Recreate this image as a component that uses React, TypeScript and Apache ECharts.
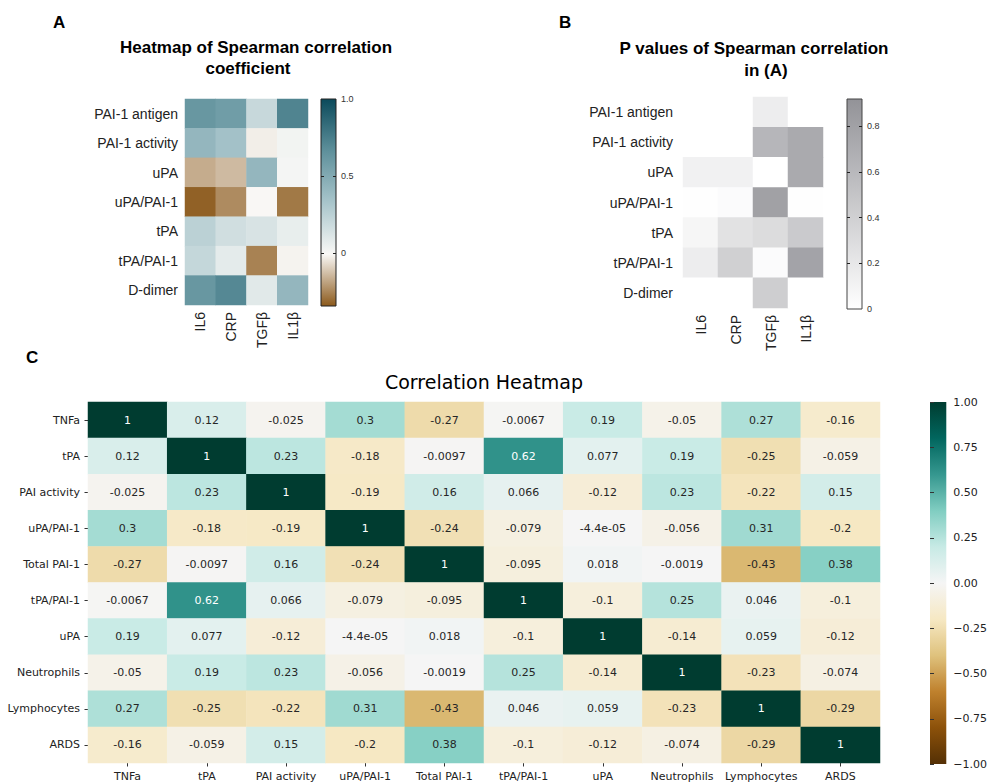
import React, { useEffect, useRef } from 'react';
import * as echarts from 'echarts';

// ---------- Panel A / B ----------
const rowsAB = ['PAI-1 antigen', 'PAI-1 activity', 'uPA', 'uPA/PAI-1', 'tPA', 'tPA/PAI-1', 'D-dimer'];
const colsAB = ['IL6', 'CRP', 'TGFβ', 'IL1β'];
const rhoA = [
  [0.62, 0.58, 0.2, 0.72],
  [0.42, 0.35, -0.03, 0.02],
  [-0.17, -0.14, 0.42, 0.01],
  [-0.33, -0.24, -0.01, -0.28],
  [0.25, 0.16, 0.13, 0.06],
  [0.21, 0.08, -0.26, -0.02],
  [0.62, 0.7, 0.09, 0.42],
];
const pB = [
  [0, 0, 0.15, 0],
  [0, 0, 0.62, 0.72],
  [0.12, 0.12, 0, 0.72],
  [0.01, 0.03, 0.8, 0.01],
  [0.08, 0.25, 0.3, 0.45],
  [0.15, 0.4, 0.03, 0.78],
  [0, 0, 0.42, 0],
];
const rangeA = [-0.345, 1.0];
const rangeB = [0, 0.92];
const colorsA = ['#8c5a1c', '#f9f8f6', '#a8c5cb', '#5e909b', '#0b4a5b'];
const colorsB = ['#ffffff', '#939398'];
const tickLabelsA = [0, 0.5, 1];
const tickMarksA = [0, 0.5];
const tickLabelsB = [0, 0.2, 0.4, 0.6, 0.8];
const tickMarksB = [0.2, 0.4, 0.6, 0.8];

// ---------- Panel C ----------
const varsC = ['TNFa', 'tPA', 'PAI activity', 'uPA/PAI-1', 'Total PAI-1', 'tPA/PAI-1', 'uPA', 'Neutrophils', 'Lymphocytes', 'ARDS'];
const corrC = [
  [1, 0.12, -0.025, 0.3, -0.27, -0.0067, 0.19, -0.05, 0.27, -0.16],
  [0.12, 1, 0.23, -0.18, -0.0097, 0.62, 0.077, 0.19, -0.25, -0.059],
  [-0.025, 0.23, 1, -0.19, 0.16, 0.066, -0.12, 0.23, -0.22, 0.15],
  [0.3, -0.18, -0.19, 1, -0.24, -0.079, -4.4e-05, -0.056, 0.31, -0.2],
  [-0.27, -0.0097, 0.16, -0.24, 1, -0.095, 0.018, -0.0019, -0.43, 0.38],
  [-0.0067, 0.62, 0.066, -0.079, -0.095, 1, -0.1, 0.25, 0.046, -0.1],
  [0.19, 0.077, -0.12, -4.4e-05, 0.018, -0.1, 1, -0.14, 0.059, -0.12],
  [-0.05, 0.19, 0.23, -0.056, -0.0019, 0.25, -0.14, 1, -0.23, -0.074],
  [0.27, -0.25, -0.22, 0.31, -0.43, 0.046, 0.059, -0.23, 1, -0.29],
  [-0.16, -0.059, 0.15, -0.2, 0.38, -0.1, -0.12, -0.074, -0.29, 1],
];
const colorsC = ['#543005', '#8c510a', '#bf812d', '#dfc27d', '#f6e8c3', '#f5f5f5', '#c7eae5', '#80cdc1', '#35978f', '#01665e', '#003c30'];

const ARIAL = '"Liberation Sans", Arial, sans-serif';
const DEJAVU = '"DejaVu Sans", sans-serif';

function fmtG(v: number): string {
  const a = Math.abs(v);
  if (a !== 0 && a < 1e-4) {
    return v.toExponential(1).replace(/e([+-])(\d)$/, 'e$10$2');
  }
  return String(Number(v.toPrecision(2)));
}

function gradient(colors: string[]) {
  const rev = colors.slice().reverse();
  return new echarts.graphic.LinearGradient(0, 0, 0, 1,
    rev.map((c, i) => ({ offset: i / (rev.length - 1), color: c })));
}

function matrixData(m: number[][]) {
  const out: any[] = [];
  m.forEach((row, r) => row.forEach((v, c) => out.push([c, r, v])));
  return out;
}

export default function App() {
  const ref = useRef<HTMLDivElement>(null);
  useEffect(() => {
    if (!ref.current) return;
    const chart = echarts.init(ref.current, undefined, { renderer: 'svg' });

    const dataC = [] as any[];
    corrC.forEach((row, r) => row.forEach((v, c) => {
      dataC.push({ value: [c, r, v], label: { color: Math.abs(v) >= 0.55 ? '#ffffff' : '#262626' } });
    }));

    const catAxisAB = (grid: number, data: string[], isY: boolean, margin: number) => ({
      type: 'category', gridIndex: grid, data, inverse: isY,
      axisLine: { show: false }, axisTick: { show: false }, splitLine: { show: false },
      axisLabel: { interval: 0, fontSize: 14, fontFamily: ARIAL, color: '#222', margin, rotate: isY ? 0 : 90 },
    });

    const cbAxis = (grid: number, pos: string, range: number[], marks: number[], labels: number[] | null) => ({
      type: 'value', gridIndex: grid, position: pos, min: range[0], max: range[1],
      axisLine: { show: false }, splitLine: { show: false },
      axisTick: { show: true, inside: true, length: 3, customValues: marks, lineStyle: { color: '#222', width: 1 } },
      axisLabel: labels ? {
        show: true, customValues: labels, fontSize: 9, fontFamily: ARIAL, color: '#333', margin: 5,
        formatter: (v: number) => (v === 0 ? '0' : v.toFixed(1)),
      } : { show: false },
    });

    const option: any = {
      animation: false,
      backgroundColor: '#ffffff',
      grid: [
        { left: 185, top: 99, width: 123, height: 206 },
        { left: 683, top: 97, width: 140, height: 211 },
        { left: 88, top: 402, width: 792, height: 362 },
        { left: 321, top: 99, width: 15, height: 207, show: true, borderColor: '#222', borderWidth: 1, backgroundColor: gradient(colorsA) },
        { left: 847, top: 99, width: 15, height: 210, show: true, borderColor: '#444', borderWidth: 1, backgroundColor: gradient(colorsB) },
        { left: 930, top: 402, width: 18, height: 362, show: true, borderWidth: 0, borderColor: 'transparent', backgroundColor: gradient(colorsC) },
      ],
      xAxis: [
        catAxisAB(0, colsAB, false, 7),
        catAxisAB(1, colsAB, false, 7),
        {
          type: 'category', gridIndex: 2, data: varsC,
          axisLine: { show: false }, splitLine: { show: false },
          axisTick: { show: true, alignWithLabel: true, interval: 0, length: 3.5, lineStyle: { color: '#333' } },
          axisLabel: { interval: 0, fontSize: 11, fontFamily: DEJAVU, color: '#222', margin: 8 },
        },
        { type: 'value', gridIndex: 3, show: false, min: 0, max: 1 },
        { type: 'value', gridIndex: 4, show: false, min: 0, max: 1 },
        { type: 'value', gridIndex: 5, show: false, min: 0, max: 1 },
      ],
      yAxis: [
        catAxisAB(0, rowsAB, true, 7),
        catAxisAB(1, rowsAB, true, 10),
        {
          type: 'category', gridIndex: 2, data: varsC, inverse: true,
          axisLine: { show: false }, splitLine: { show: false },
          axisTick: { show: true, alignWithLabel: true, interval: 0, length: 3.5, lineStyle: { color: '#333' } },
          axisLabel: { interval: 0, fontSize: 11, fontFamily: DEJAVU, color: '#222', margin: 8 },
        },
        cbAxis(3, 'left', rangeA, tickMarksA, null),
        cbAxis(3, 'right', rangeA, tickMarksA, tickLabelsA),
        cbAxis(4, 'left', rangeB, tickMarksB, null),
        cbAxis(4, 'right', rangeB, tickMarksB, tickLabelsB),
        {
          type: 'value', gridIndex: 5, position: 'right', min: -1, max: 1, interval: 0.25,
          axisLine: { show: false }, splitLine: { show: false },
          axisTick: { show: true, length: 4, lineStyle: { color: '#333' } },
          axisLabel: {
            fontSize: 11, fontFamily: DEJAVU, color: '#222', margin: 7,
            formatter: (v: number) => (v < 0 ? '\u2212' + Math.abs(v).toFixed(2) : v.toFixed(2)),
          },
        },
      ],
      visualMap: [
        { type: 'continuous', show: false, seriesIndex: 0, min: rangeA[0], max: rangeA[1], inRange: { color: colorsA } },
        { type: 'continuous', show: false, seriesIndex: 1, min: rangeB[0], max: rangeB[1], inRange: { color: colorsB } },
        { type: 'continuous', show: false, seriesIndex: 2, min: -1, max: 1, inRange: { color: colorsC } },
      ],
      series: [
        { type: 'heatmap', xAxisIndex: 0, yAxisIndex: 0, data: matrixData(rhoA), emphasis: { disabled: true } },
        { type: 'heatmap', xAxisIndex: 1, yAxisIndex: 1, data: matrixData(pB), emphasis: { disabled: true } },
        {
          type: 'heatmap', xAxisIndex: 2, yAxisIndex: 2, data: dataC, emphasis: { disabled: true },
          label: {
            show: true, fontSize: 11, fontFamily: DEJAVU,
            formatter: (p: any) => fmtG(p.value[2]),
          },
        },
      ],
      graphic: [
        { type: 'text', x: 53, y: 22, style: { text: 'A', fill: '#000', font: `bold 17px ${ARIAL}`, align: 'left', verticalAlign: 'middle', textAlign: 'left', textVerticalAlign: 'middle' } },
        { type: 'text', x: 559, y: 22, style: { text: 'B', fill: '#000', font: `bold 17px ${ARIAL}`, align: 'left', verticalAlign: 'middle', textAlign: 'left', textVerticalAlign: 'middle' } },
        { type: 'text', x: 26, y: 357, style: { text: 'C', fill: '#000', font: `bold 17px ${ARIAL}`, align: 'left', verticalAlign: 'middle', textAlign: 'left', textVerticalAlign: 'middle' } },
        { type: 'text', x: 256, y: 47, style: { text: 'Heatmap of Spearman correlation', fill: '#000', font: `bold 17px ${ARIAL}`, align: 'center', verticalAlign: 'middle', textAlign: 'center', textVerticalAlign: 'middle' } },
        { type: 'text', x: 248, y: 68, style: { text: 'coefficient', fill: '#000', font: `bold 17px ${ARIAL}`, align: 'center', verticalAlign: 'middle', textAlign: 'center', textVerticalAlign: 'middle' } },
        { type: 'text', x: 754, y: 48, style: { text: 'P values of Spearman correlation', fill: '#000', font: `bold 17px ${ARIAL}`, align: 'center', verticalAlign: 'middle', textAlign: 'center', textVerticalAlign: 'middle' } },
        { type: 'text', x: 766, y: 70, style: { text: 'in (A)', fill: '#000', font: `bold 17px ${ARIAL}`, align: 'center', verticalAlign: 'middle', textAlign: 'center', textVerticalAlign: 'middle' } },
        { type: 'text', x: 484, y: 382, style: { text: 'Correlation Heatmap', fill: '#000', font: `19px ${DEJAVU}`, align: 'center', verticalAlign: 'middle', textAlign: 'center', textVerticalAlign: 'middle' } },
      ],
    };
    chart.setOption(option);
    return () => chart.dispose();
  }, []);
  return (
    <div
      ref={ref}
      style={{ position: 'absolute', left: 0, top: 0, width: 990, height: 782, background: '#fff' }}
    />
  );
}
